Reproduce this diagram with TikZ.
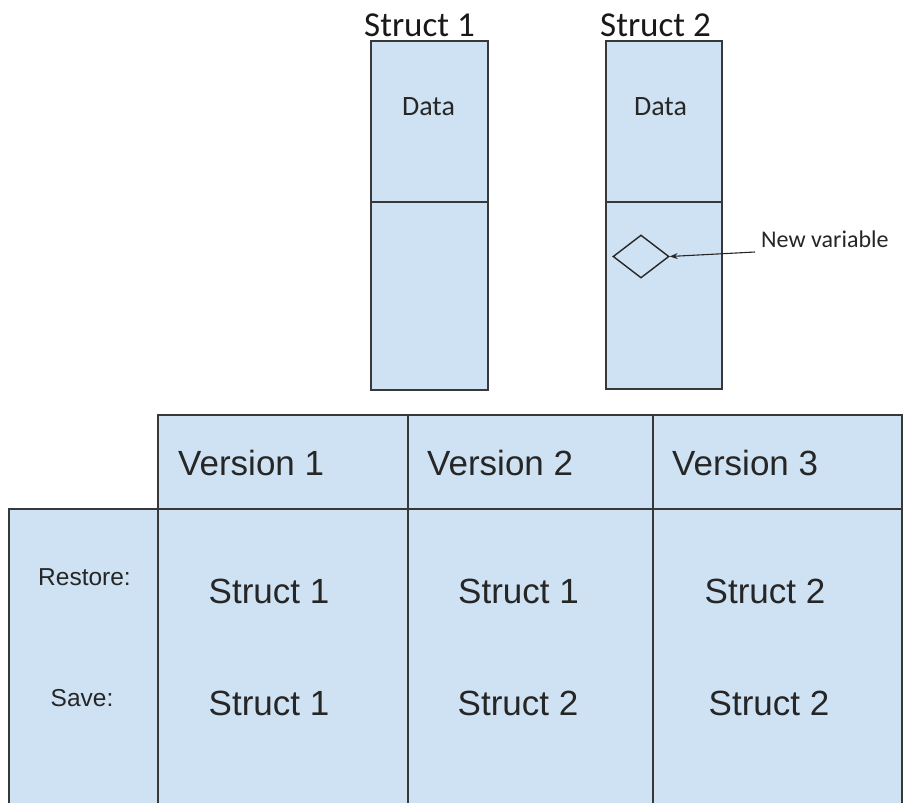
\documentclass[tikz,border=0pt]{standalone}
\usepackage{fontspec}
\setmainfont{Carlito}
\newfontfamily\arialf{Liberation Sans}
\usetikzlibrary{shapes.geometric,arrows.meta}
\definecolor{fillblue}{HTML}{CFE2F3}
\definecolor{edgegray}{HTML}{383838}
\tikzset{
  cellbox/.style={rectangle, draw=edgegray, fill=fillblue, line width=1.8pt, inner sep=0pt, outer sep=0pt},
  ttl/.style={inner sep=0pt, font=\fontsize{35}{40}\selectfont, text=black!90},
  datatxt/.style={inner sep=0pt, font=\fontsize{28}{32}\selectfont, text=black!85},
  bigtxt/.style={inner sep=0pt, font=\arialf\fontsize{35}{40}\selectfont, text=black!85},
  smalltxt/.style={inner sep=0pt, font=\arialf\fontsize{24.5}{28}\selectfont, text=black!85},
  notetxt/.style={inner sep=0pt, font=\fontsize{24}{28}\selectfont, text=black!85},
  vardia/.style={diamond, draw=black!85, line width=1.4pt, inner sep=0pt, minimum width=56pt, minimum height=43pt},
  pointer/.style={draw=black!85, line width=1.1pt, -{Stealth[length=8pt,width=6pt]}}
}
\begin{document}
\begin{tikzpicture}[x=1pt,y=-1pt]
\useasboundingbox (0,0) rectangle (903,803);
\clip (0,0) rectangle (903,803);
% Struct boxes
\node[cellbox, minimum width=117.3pt, minimum height=160.7pt] (s1top) at (429.4,121.4) {};
\node[cellbox, minimum width=117.3pt, minimum height=188.3pt] (s1bot) at (429.4,295.9) {};
\node[cellbox, minimum width=115.7pt, minimum height=160.7pt] (s2top) at (663.9,121.4) {};
\node[cellbox, minimum width=115.7pt, minimum height=187.3pt] (s2bot) at (663.9,295.4) {};
\node[ttl, anchor=base] (t1) at (419.5,36.5) {Struct 1};
\node[ttl, anchor=base] (t2) at (655.5,36) {Struct 2};
\node[datatxt] (d1) at (428.5,106.5) {Data};
\node[datatxt] (d2) at (660.5,106.5) {Data};
% new variable
\node[vardia] (dia) at (641,256.5) {};
\node[notetxt, anchor=west] (nv) at (761,239) {New variable};
\coordinate (nvstart) at (755,252);
\draw[pointer] (nvstart) -- (dia.east);
% table
\node[cellbox, minimum width=250pt, minimum height=94pt] (h1) at (283,462) {};
\node[cellbox, minimum width=245pt, minimum height=94pt] (h2) at (530.5,462) {};
\node[cellbox, minimum width=249pt, minimum height=94pt] (h3) at (777.5,462) {};
\node[cellbox, minimum width=148.7pt, minimum height=320pt] (lab) at (83.65,669) {};
\node[cellbox, minimum width=250pt, minimum height=320pt] (b1) at (283,669) {};
\node[cellbox, minimum width=245pt, minimum height=320pt] (b2) at (530.5,669) {};
\node[cellbox, minimum width=249pt, minimum height=320pt] (b3) at (777.5,669) {};
\node[bigtxt, anchor=west] (v1) at (178,463) {Version 1};
\node[bigtxt, anchor=west] (v2) at (427,463) {Version 2};
\node[bigtxt, anchor=west] (v3) at (672,463) {Version 3};
\node[smalltxt] (rl) at (84.5,577) {Restore:};
\node[smalltxt] (sl) at (82,698) {Save:};
\node[bigtxt] (r1) at (269,591) {Struct 1};
\node[bigtxt] (s1) at (269,703) {Struct 1};
\node[bigtxt] (r2) at (518.5,591) {Struct 1};
\node[bigtxt] (s2) at (518,703) {Struct 2};
\node[bigtxt] (r3) at (765,591) {Struct 2};
\node[bigtxt] (s3) at (769,703) {Struct 2};
\end{tikzpicture}
\end{document}
